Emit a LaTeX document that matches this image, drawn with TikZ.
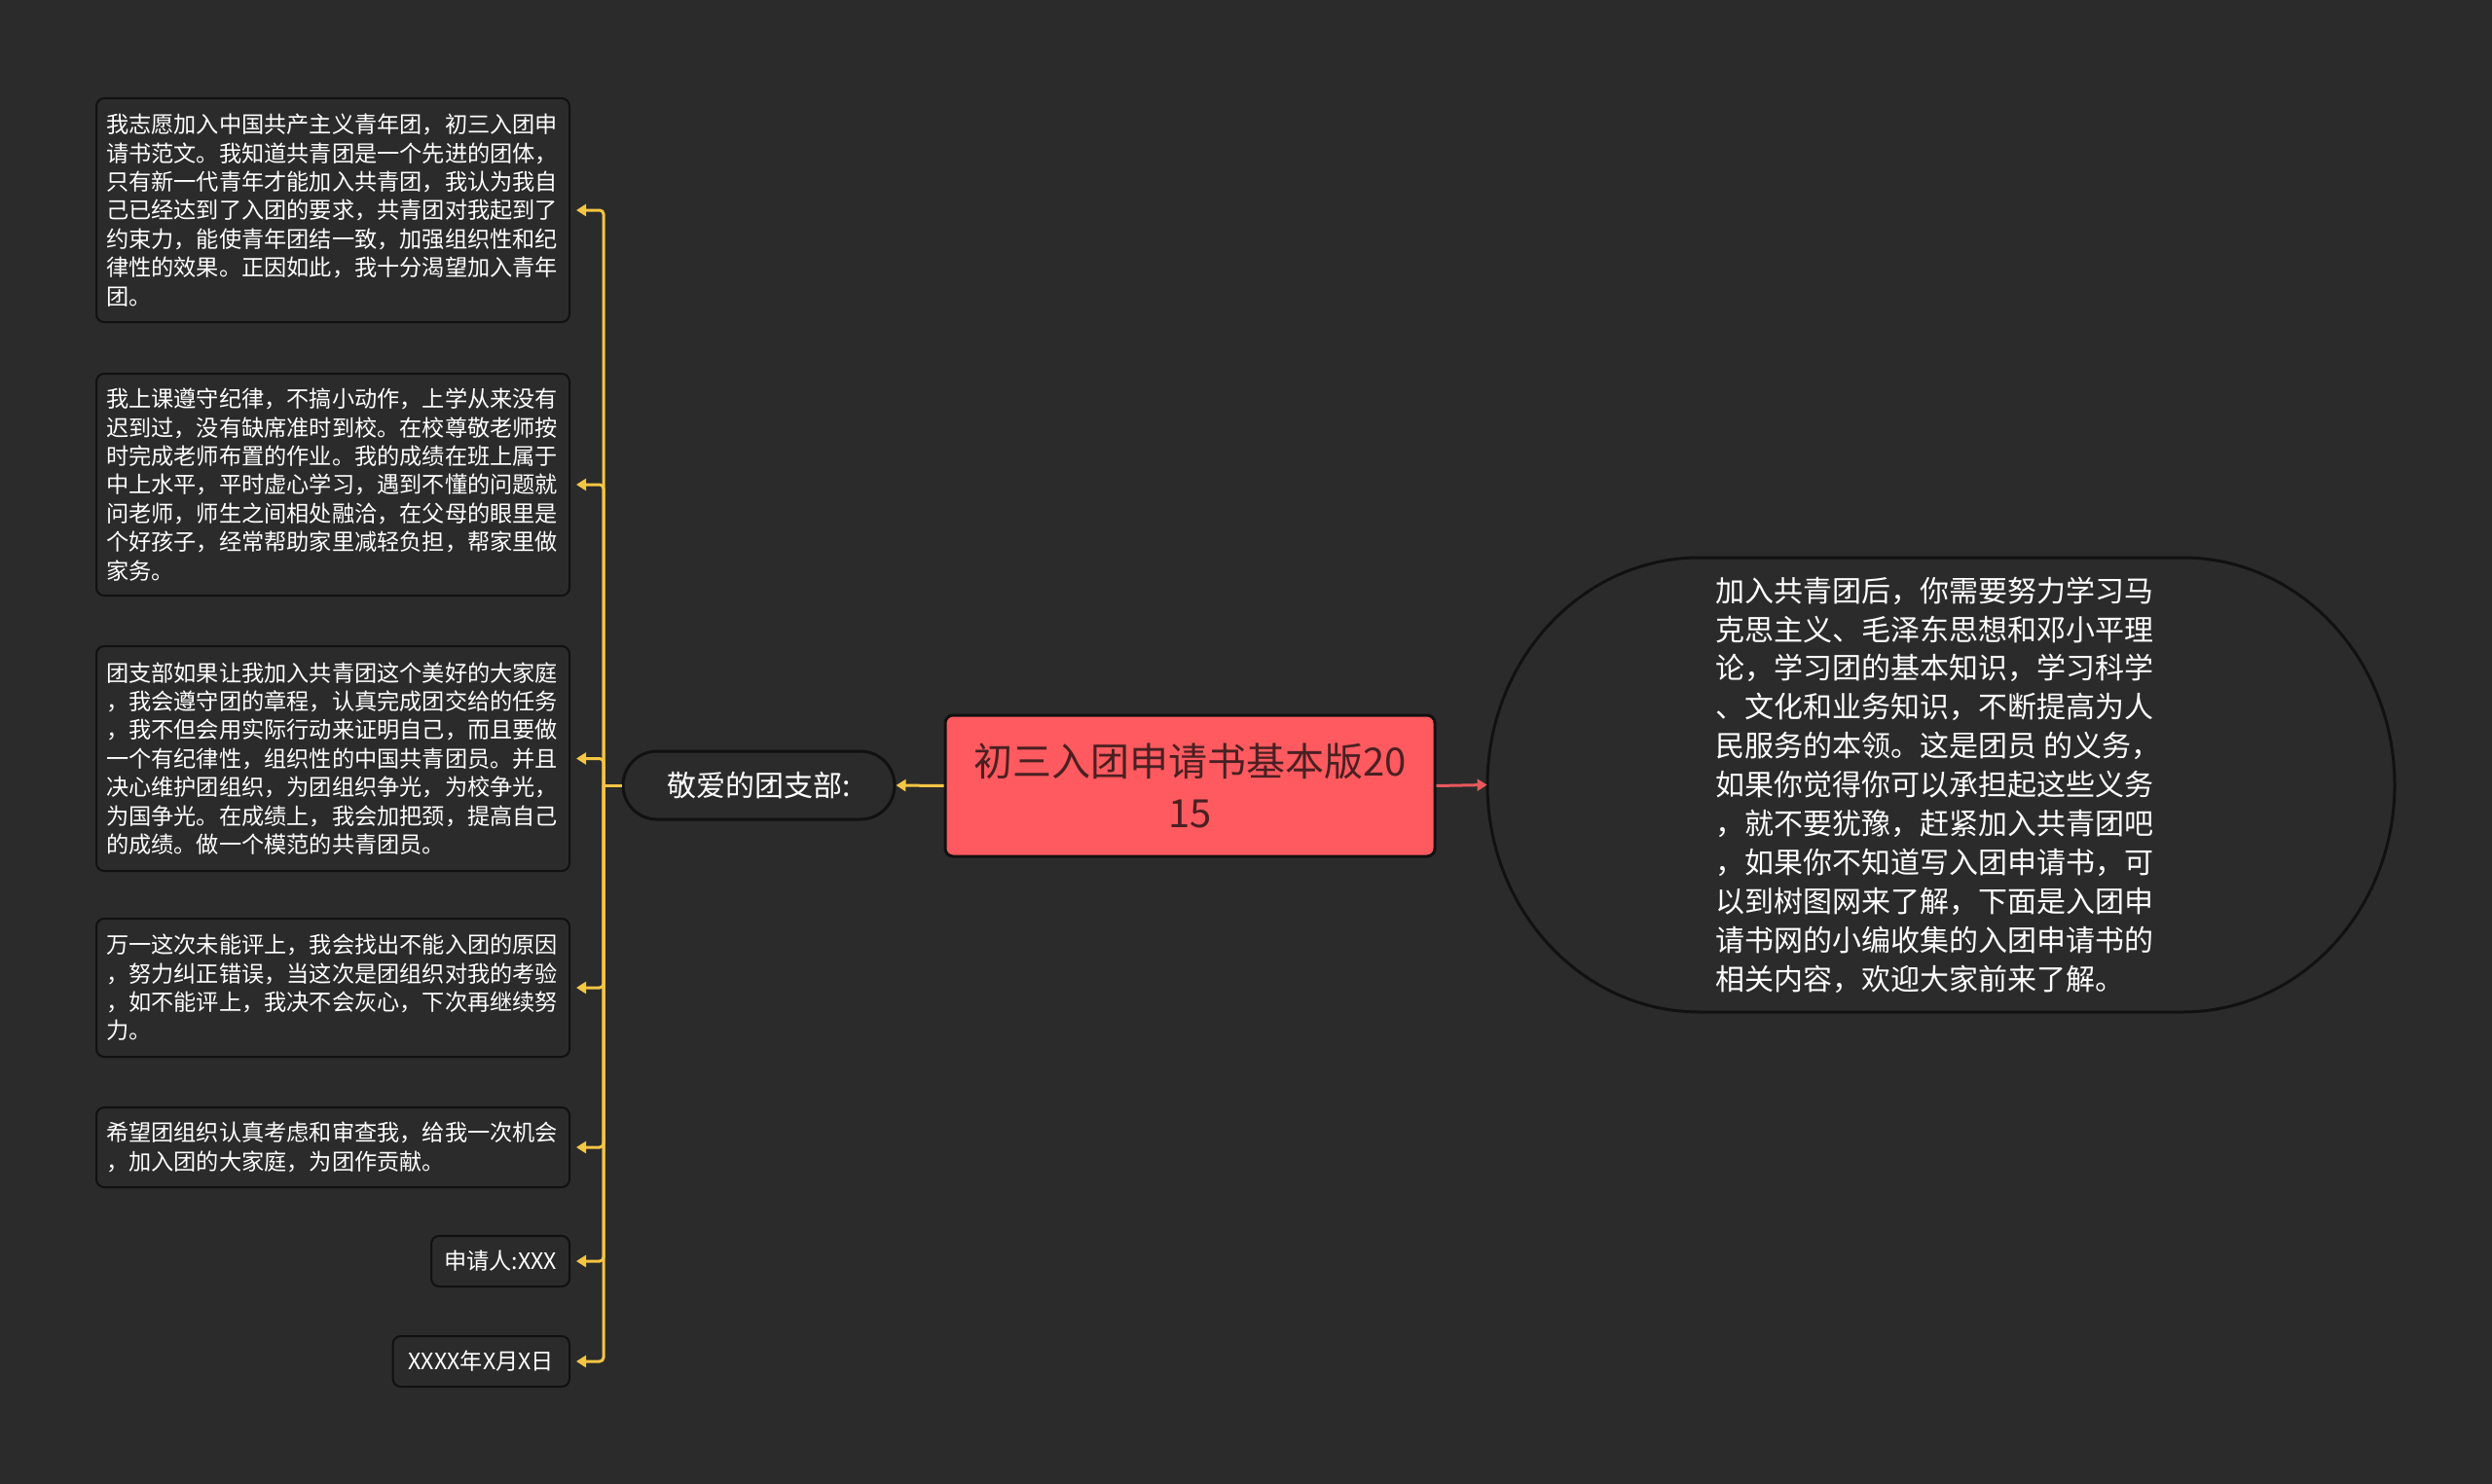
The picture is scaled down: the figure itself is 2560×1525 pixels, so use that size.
\documentclass[tikz,border=0pt]{standalone}
\usepackage{fontspec}
\setmainfont{Noto Sans CJK SC}
\usetikzlibrary{arrows.meta}
\definecolor{bgc}{HTML}{2B2B2B}
\definecolor{ylw}{HTML}{F5C544}
\definecolor{redfill}{HTML}{FF5A5F}
\definecolor{redline}{HTML}{E8585C}
\definecolor{redtext}{HTML}{4A2022}
\definecolor{edgec}{HTML}{111111}
\tikzset{
  leafbox/.style={draw=edgec, line width=1pt, fill=bgc, rounded corners=4pt,
    text=white, anchor=east, inner xsep=5pt, inner ysep=0pt,
    font=\fontsize{11.6pt}{14.7pt}\selectfont},
  leafwide/.style={leafbox, text width=233pt, align=left},
  yconn/.style={draw=ylw, line width=1.5pt, rounded corners=2pt,
    -{Triangle[length=5pt,width=6pt]}, shorten >=3pt},
  rconn/.style={draw=redline, line width=1.5pt,
    -{Triangle[length=5pt,width=6pt]}},
}
\begin{document}
\begin{tikzpicture}[x=0.5pt,y=-0.5pt]
\fill[bgc] (0,0) rectangle (2560,1525);
\useasboundingbox (0,0) rectangle (2560,1525);

% right shape outline
\draw[draw=edgec, line width=1.5pt, fill=bgc]
  (1746,573) -- (2242,573)
  arc[start angle=90,end angle=-90,x radius=109pt,y radius=116.75pt]
  -- (1746,1040)
  arc[start angle=270,end angle=90,x radius=109pt,y radius=116.75pt]
  -- cycle;
\node[minimum width=466pt, minimum height=233.5pt, inner sep=0pt] (rnode) at (1994,806.5) {};
\node[text=white, align=left, inner sep=0pt, font=\fontsize{15pt}{19.95pt}\selectfont] (rtext) at (1991,806.5)
 {加入共青团后，你需要努力学习马\\
  克思主义、毛泽东思想和邓小平理\\
  论，学习团的基本知识，学习科学\\
  、文化和业务知识，不断提高为人\\
  民服务的本领。这是团员 的义务，\\
  如果你觉得你可以承担起这些义务\\
  ，就不要犹豫，赶紧加入共青团吧\\
  ，如果你不知道写入团申请书，可\\
  以到树图网来了解，下面是入团申\\
  请书网的小编收集的入团申请书的\\
  相关内容，欢迎大家前来了解。};

% central
\node[draw=edgec, line width=1.5pt, fill=redfill, rounded corners=4pt,
  minimum width=251.5pt, minimum height=72.5pt, inner sep=0pt, align=center,
  text=redtext, font=\fontsize{20pt}{26.5pt}\selectfont] (root) at (1222.5,807.5)
  {初三入团申请书基本版20\\15};

% main branch
\node[draw=edgec, line width=1.5pt, fill=bgc, rounded corners=17.5pt,
  minimum width=139.5pt, minimum height=35pt, inner sep=0pt, text=white,
  font=\fontsize{15pt}{18pt}\selectfont] (jing) at (779.5,807) {敬爱的团支部:};

% leaves
\node[leafwide, minimum height=115pt] (b1) at (586,216)
 {我志愿加入中国共产主义青年团，初三入团申\\
  请书范文。我知道共青团是一个先进的团体，\\
  只有新一代青年才能加入共青团，我认为我自\\
  己已经达到了入团的要求，共青团对我起到了\\
  约束力，能使青年团结一致，加强组织性和纪\\
  律性的效果。正因如此，我十分渴望加入青年\\
  团。};
\node[leafwide, minimum height=114pt] (b2) at (586,498)
 {我上课遵守纪律，不搞小动作，上学从来没有\\
  迟到过，没有缺席准时到校。在校尊敬老师按\\
  时完成老师布置的作业。我的成绩在班上属于\\
  中上水平，平时虚心学习，遇到不懂的问题就\\
  问老师，师生之间相处融洽，在父母的眼里是\\
  个好孩子，经常帮助家里减轻负担，帮家里做\\
  家务。};
\node[leafwide, minimum height=115.5pt] (b3) at (586,779.5)
 {团支部如果让我加入共青团这个美好的大家庭\\
  ，我会遵守团的章程，认真完成团交给的任务\\
  ，我不但会用实际行动来证明自己，而且要做\\
  一个有纪律性，组织性的中国共青团员。并且\\
  决心维护团组织，为团组织争光，为校争光，\\
  为国争光。在成绩上，我会加把颈，提高自己\\
  的成绩。做一个模范的共青团员。};
\node[leafwide, minimum height=71pt] (b4) at (586,1015)
 {万一这次未能评上，我会找出不能入团的原因\\
  ，努力纠正错误，当这次是团组织对我的考验\\
  ，如不能评上，我决不会灰心，下次再继续努\\
  力。};
\node[leafwide, minimum height=41pt] (b5) at (586,1179)
 {希望团组织认真考虑和审查我，给我一次机会\\
  ，加入团的大家庭，为团作贡献。};
\node[leafbox, inner xsep=6.5pt, minimum height=26pt] (b6) at (586,1296) {申请人:XXX};
\node[leafbox, inner xsep=8pt, minimum height=26pt] (b7) at (586,1399) {XXXX年X月X日};

% connectors
\draw[rconn] (root.east) -- (rnode.west);
\draw[yconn, shorten >=0pt] (root.west) -- (jing.east);
\coordinate (trunk) at (620,807);
\draw[draw=ylw, line width=1.5pt] (jing.west) -- (trunk);
\foreach \b in {b1,b2,b3,b4,b5,b6,b7}{
  \draw[yconn] (trunk) |- (\b.east);
}
\end{tikzpicture}
\end{document}
